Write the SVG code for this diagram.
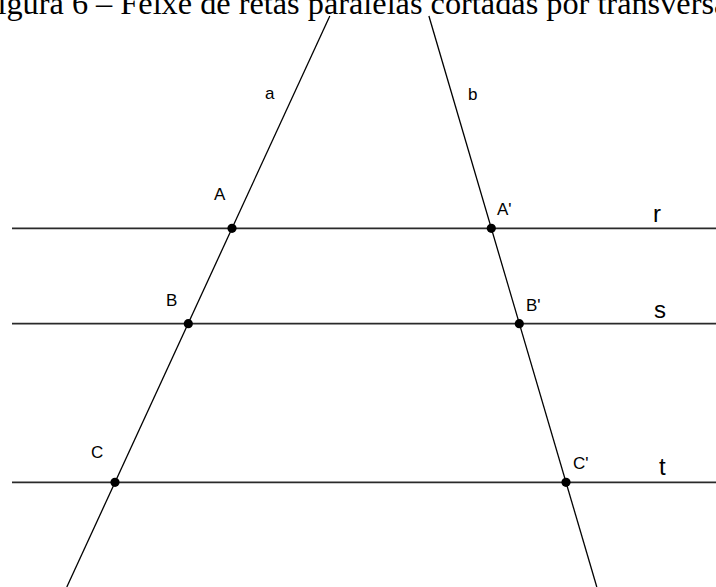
<svg xmlns="http://www.w3.org/2000/svg" width="716" height="587" viewBox="0 0 716 587">
<style>
.title{font-family:"Liberation Serif","Times New Roman",serif;font-size:32.3px;fill:#000}
.lbl{font-family:"Liberation Sans",Arial,sans-serif;font-size:17px;fill:#000}
.big{font-family:"Liberation Sans",Arial,sans-serif;font-size:24px;fill:#000}
.par{stroke:#2a2a2a;stroke-width:1.8;fill:none}
.tr{stroke:#000;stroke-width:1.3;fill:none}
.pt{fill:#000}
</style>
<rect width="716" height="587" fill="#fff"/>
<text class="title" x="-20.5" y="14.3">Figura 6 – Feixe de retas paralelas cortadas por transversais</text>
<g id="connectors">
<line id="r" class="par" x1="12" y1="228.3" x2="716" y2="228.3"/>
<line id="s" class="par" x1="12" y1="323.7" x2="716" y2="323.7"/>
<line id="t" class="par" x1="12" y1="482.3" x2="716" y2="482.3"/>
<line id="a" class="tr" x1="329.8" y1="16" x2="66.8" y2="587"/>
<line id="b" class="tr" x1="428.9" y1="16" x2="596.8" y2="587"/>
</g>
<g id="label-a"><text class="lbl" x="265" y="99">a</text></g>
<g id="label-b"><text class="lbl" x="468" y="100">b</text></g>
<g id="label-r"><text class="big" x="653" y="222">r</text></g>
<g id="label-s"><text class="big" x="654" y="318">s</text></g>
<g id="label-t"><text class="big" x="659" y="475">t</text></g>
<g id="A"><circle class="pt" cx="232" cy="228.3" r="4.6"/><text class="lbl" x="214" y="200">A</text></g>
<g id="A2"><circle class="pt" cx="491.3" cy="228.3" r="4.6"/><text class="lbl" x="497" y="215">A'</text></g>
<g id="B"><circle class="pt" cx="188.3" cy="323.7" r="4.6"/><text class="lbl" x="166" y="306">B</text></g>
<g id="B2"><circle class="pt" cx="519.3" cy="323.7" r="4.6"/><text class="lbl" x="526" y="310.5">B'</text></g>
<g id="C"><circle class="pt" cx="115" cy="482.3" r="4.6"/><text class="lbl" x="91" y="457.5">C</text></g>
<g id="C2"><circle class="pt" cx="566" cy="482.3" r="4.6"/><text class="lbl" x="573" y="468.5">C'</text></g>
</svg>
